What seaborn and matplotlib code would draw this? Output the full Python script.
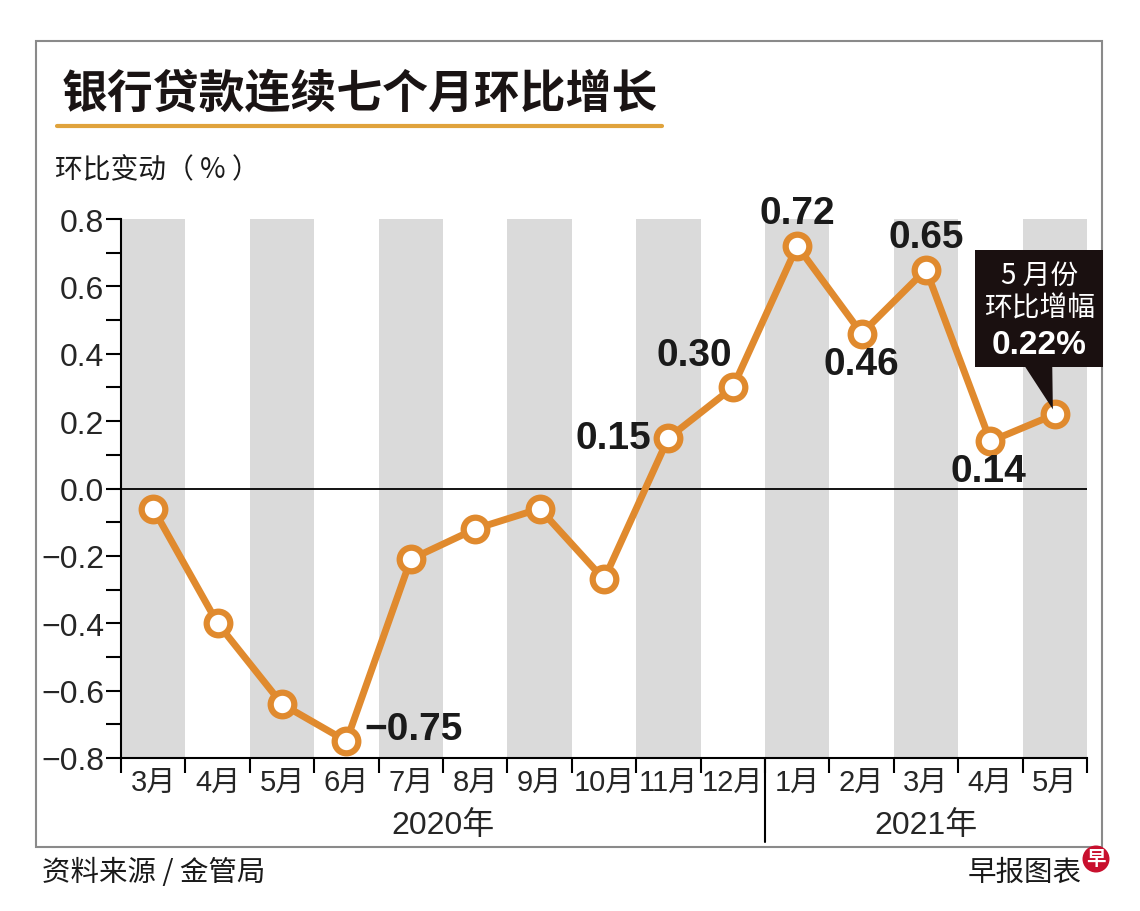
import matplotlib
matplotlib.use('Agg')
import matplotlib.pyplot as plt
import seaborn as sns
import pandas as pd
from matplotlib.patches import Rectangle, Polygon, Ellipse
from matplotlib.lines import Line2D
import matplotlib.transforms as mtransforms

# dados do gráfico
meses = ['3月', '4月', '5月', '6月', '7月', '8月', '9月', '10月', '11月', '12月',
         '1月', '2月', '3月', '4月', '5月']
anos = ['2020年', '2021年']
n_2020 = 10
valores = [-0.06, -0.40, -0.64, -0.75, -0.21, -0.12, -0.06, -0.27, 0.15, 0.30,
           0.72, 0.46, 0.65, 0.14, 0.22]
rotulos = {3: '−0.75', 8: '0.15', 9: '0.30', 10: '0.72', 11: '0.46', 12: '0.65', 13: '0.14'}
destaque_linhas = ['5 月份', '环比增幅']
destaque_valor = '0.22%'

# deslocamentos dos rótulos (pixels) e alinhamento
posicoes = {3: (18, 12, 'left'), 8: (-17, 0, 'right'), 9: (-38, 32, 'center'),
            10: (0, 33, 'center'), 11: (0, -30, 'center'), 12: (0, 33, 'center'),
            13: (-2, -30, 'center')}

laranja = '#E08A2E'
cinza = '#DADADA'

sns.set_theme(style='white')
plt.rcParams['font.family'] = ['Liberation Sans Narrow', 'Liberation Sans', 'Noto Sans CJK SC', 'DejaVu Sans']
cjk = ['Noto Sans CJK SC', 'DejaVu Sans']
num = ['Liberation Sans', 'Noto Sans CJK SC']

fig = plt.figure(figsize=(11.4, 9.12), dpi=100)
ax = fig.add_axes([121 / 1140, 1 - 759 / 912, (1087 - 121) / 1140, (759 - 220) / 912])

df = pd.DataFrame({'i': range(len(valores)), 'v': valores})

# faixas cinzas alternadas
for i in range(0, len(meses), 2):
    ax.axvspan(i - 0.5, i + 0.5, color=cinza, lw=0, zorder=0)

ax.axhline(0, color='black', lw=1.3, zorder=1)

sns.lineplot(data=df, x='i', y='v', ax=ax, color=laranja, lw=5, marker='o',
             markersize=17, markerfacecolor='white', markeredgecolor=laranja,
             markeredgewidth=4.5, zorder=3)

ax.set_xlim(-0.5, len(meses) - 0.5)
ax.set_ylim(-0.8, 0.8)
ax.set_xlabel('')
ax.set_ylabel('')

ax.set_yticks([-0.8, -0.6, -0.4, -0.2, 0.0, 0.2, 0.4, 0.6, 0.8])
ax.set_yticks([-0.7, -0.5, -0.3, -0.1, 0.1, 0.3, 0.5, 0.7], minor=True)
ax.set_yticklabels([f'{t:.1f}'.replace('-', '−') for t in ax.get_yticks()], fontsize=23)
ax.set_xticks(range(len(meses)))
ax.set_xticks([i - 0.5 for i in range(len(meses) + 1)], minor=True)
ax.set_xticklabels(meses, fontsize=21)

ax.tick_params(axis='y', which='both', length=11, width=1.5, color='black', direction='out', left=True, pad=1)
ax.tick_params(axis='x', which='major', length=0, pad=7)
ax.tick_params(axis='x', which='minor', length=11, width=1.5, color='black', direction='out', bottom=True)

for lado in ['top', 'right']:
    ax.spines[lado].set_visible(False)
for lado in ['left', 'bottom']:
    ax.spines[lado].set_color('black')
    ax.spines[lado].set_linewidth(1.5)

# linha que separa os anos e rótulos dos anos
trans = mtransforms.blended_transform_factory(ax.transData, ax.transAxes)
ax.add_line(Line2D([n_2020 - 0.5, n_2020 - 0.5], [0, -0.156], transform=trans,
                   color='black', lw=1.5, clip_on=False))
ax.text((n_2020 - 1) / 2, -0.124, anos[0], transform=trans, ha='center', va='center', fontsize=23)
ax.text((n_2020 + len(meses) - 1) / 2, -0.124, anos[1], transform=trans, ha='center', va='center', fontsize=23)

# rótulos dos valores
for i, txt in rotulos.items():
    dx, dy, ha = posicoes[i]
    ax.annotate(txt, (i, valores[i]), xytext=(dx, dy), textcoords='offset pixels',
                ha=ha, va='center', fontsize=28, fontweight='bold', family=num,
                color='#1a1a1a', zorder=4)

# caixa de destaque do último mês
ult = len(valores) - 1
ax.add_patch(Rectangle((12.76, 0.362), 14.75 - 12.76, 0.709 - 0.362, fc='#1a1010', ec='none',
                       clip_on=False, zorder=5))
ax.add_patch(Polygon([(13.51, 0.37), (13.96, 0.37), (ult - 0.03, valores[ult] + 0.015)],
                     closed=True, fc='#1a1010', ec='none', clip_on=False, zorder=5))
ax.text(13.76, 0.635, destaque_linhas[0], ha='center', va='center', color='white',
        fontsize=20, family=cjk, zorder=6)
ax.text(13.76, 0.537, destaque_linhas[1], ha='center', va='center', color='white',
        fontsize=20, family=cjk, zorder=6)
ax.text(13.76, 0.427, destaque_valor, ha='center', va='center', color='white',
        fontsize=24, fontweight='bold', family=num, zorder=6)

# moldura, título e notas
fig.patches.append(Rectangle((36 / 1140, 1 - 848 / 912), (1102 - 36) / 1140, (848 - 42) / 912,
                             transform=fig.transFigure, fill=False, ec='#8a8a8a', lw=1.5, zorder=-1))
fig.text(62 / 1140, 1 - 94 / 912, '银行贷款连续七个月环比增长', fontsize=33, fontweight='heavy',
         family=cjk, va='center', ha='left', color='#1a1414')
fig.add_artist(Line2D([57 / 1140, 662 / 1140], [1 - 127 / 912, 1 - 127 / 912],
                      transform=fig.transFigure, color='#E0A33C', lw=3))
fig.text(55 / 1140, 1 - 170 / 912, '环比变动（ % ）', fontsize=20, family=cjk, va='center', ha='left',
         color='#1a1a1a')
fig.text(42 / 1140, 1 - 873 / 912, '资料来源 / 金管局', fontsize=20.5, family=cjk, va='center',
         ha='left', color='#1a1a1a')
fig.text(1082 / 1140, 1 - 873 / 912, '早报图表', fontsize=20.5, family=cjk, va='center',
         ha='right', color='#1a1a1a')

# logotipo
fig.patches.append(Ellipse((1096 / 1140, 1 - 860 / 912), 27 / 1140, 27 / 912, transform=fig.transFigure,
                           fc='#C8102E', ec='none', zorder=5))
fig.text(1096 / 1140, 1 - 860 / 912, '早', fontsize=14, fontweight='bold', family=cjk,
         color='white', ha='center', va='center', zorder=6)

fig.savefig('out.png', dpi=100)
